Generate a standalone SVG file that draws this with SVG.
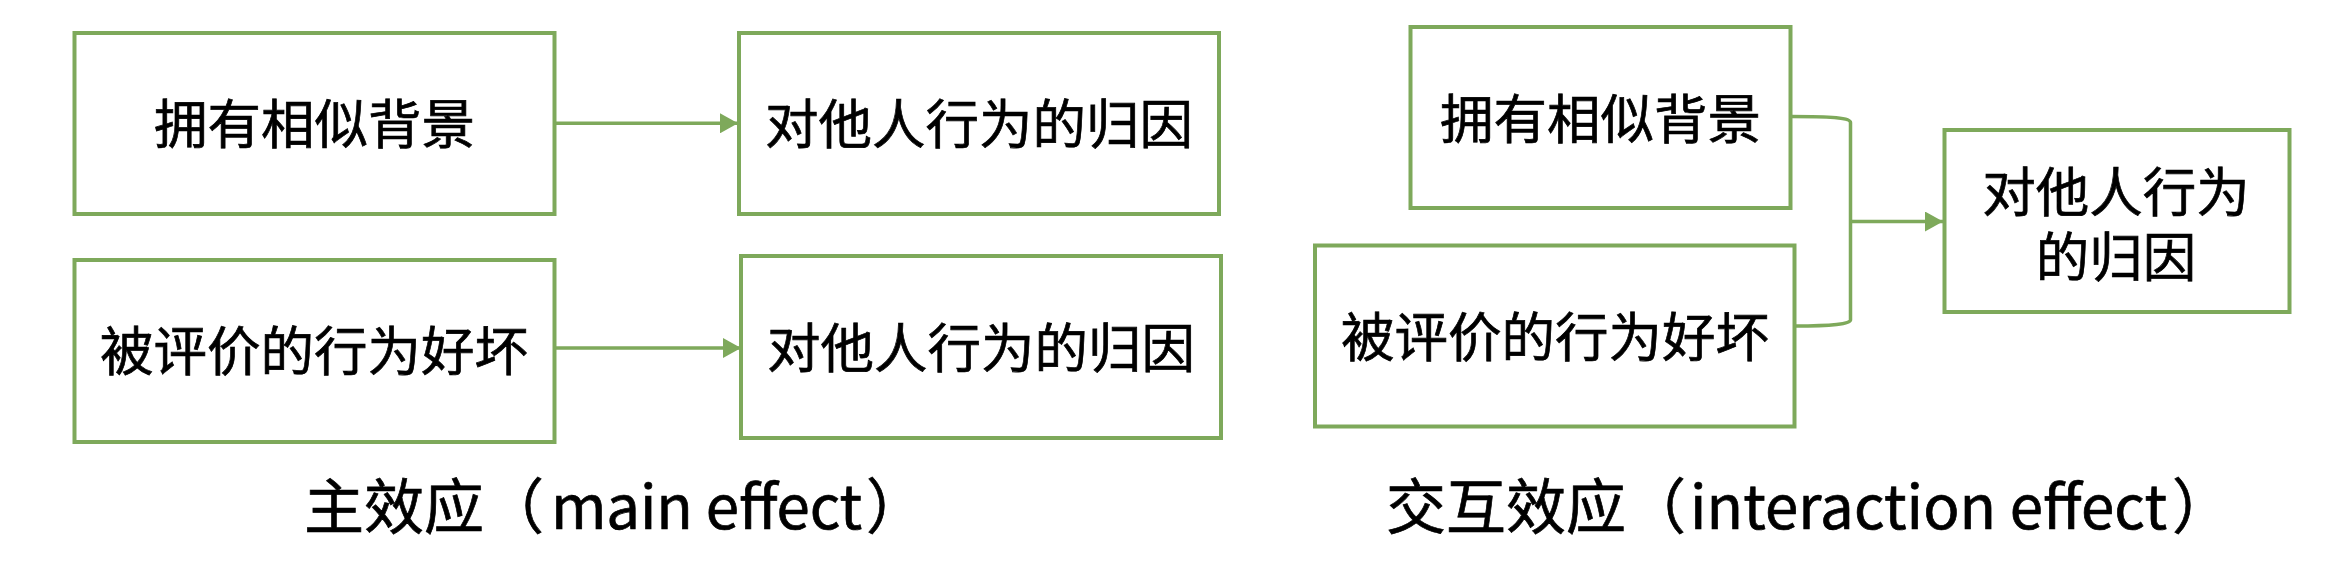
<svg xmlns="http://www.w3.org/2000/svg" width="2350" height="582" viewBox="0 0 2350 582">
  <style>
    .box { fill: #ffffff; stroke: #7EA95B; stroke-width: 4; }
    .conn { fill: none; stroke: #7EA95B; stroke-width: 3.5; }
    .t { font-family: "Noto Sans CJK SC", "Microsoft YaHei", sans-serif; font-size: 53.5px; fill: #000000; stroke: #000000; stroke-width: 0.7; text-anchor: middle; }
    .cap { font-family: "Noto Sans CJK SC", "Microsoft YaHei", sans-serif; font-size: 60px; fill: #000000; stroke: #000000; stroke-width: 0.7; }
  </style>
  <defs>
    <marker id="arrow" markerUnits="userSpaceOnUse" markerWidth="18" markerHeight="20" refX="18" refY="10" orient="auto">
      <path d="M0,0 L18,10 L0,20 Z" fill="#7EA95B"/>
    </marker>
  </defs>
  <rect width="2350" height="582" fill="#ffffff"/>

  <g id="connectors">
    <line class="conn" x1="555" y1="123.3" x2="738" y2="123.3" marker-end="url(#arrow)"/>
    <line class="conn" x1="555" y1="348" x2="741" y2="348" marker-end="url(#arrow)"/>
    <path class="conn" d="M1791,116.5 C1832,116.5 1850.5,118 1850.5,122.5 L1850.5,320 C1850.5,324 1832,326 1795,326"/>
    <line class="conn" x1="1850.5" y1="221.5" x2="1943" y2="221.5" marker-end="url(#arrow)"/>
  </g>

  <g id="node-main-similar">
    <rect class="box" x="74.5" y="33" width="480" height="181"/>
    <text class="t" x="314.5" y="143.5">拥有相似背景</text>
  </g>
  <g id="node-main-behavior">
    <rect class="box" x="74.5" y="260" width="480" height="182"/>
    <text class="t" x="314" y="370.5">被评价的行为好坏</text>
  </g>
  <g id="node-main-attr1">
    <rect class="box" x="739" y="33" width="480" height="181"/>
    <text class="t" x="979" y="143.5">对他人行为的归因</text>
  </g>
  <g id="node-main-attr2">
    <rect class="box" x="741" y="256" width="480" height="182"/>
    <text class="t" x="981" y="367.5">对他人行为的归因</text>
  </g>
  <g id="node-int-similar">
    <rect class="box" x="1410.5" y="27" width="380" height="181"/>
    <text class="t" x="1600.5" y="138.5">拥有相似背景</text>
  </g>
  <g id="node-int-behavior">
    <rect class="box" x="1315" y="245.5" width="479.5" height="181"/>
    <text class="t" x="1555" y="356.5">被评价的行为好坏</text>
  </g>
  <g id="node-int-attr">
    <rect class="box" x="1944.5" y="130" width="345" height="182"/>
    <text class="t" x="2116" y="211.5">对他人行为</text>
    <text class="t" x="2116" y="276.5">的归因</text>
  </g>

  <g id="caption-main">
    <text class="cap" y="529"><tspan x="304">主效应（</tspan><tspan x="551" textLength="311">main effect</tspan><tspan x="866">）</tspan></text>
  </g>
  <g id="caption-interaction">
    <text class="cap" y="529"><tspan x="1386">交互效应（</tspan><tspan x="1690" textLength="477">interaction effect</tspan><tspan x="2172">）</tspan></text>
  </g>
</svg>
